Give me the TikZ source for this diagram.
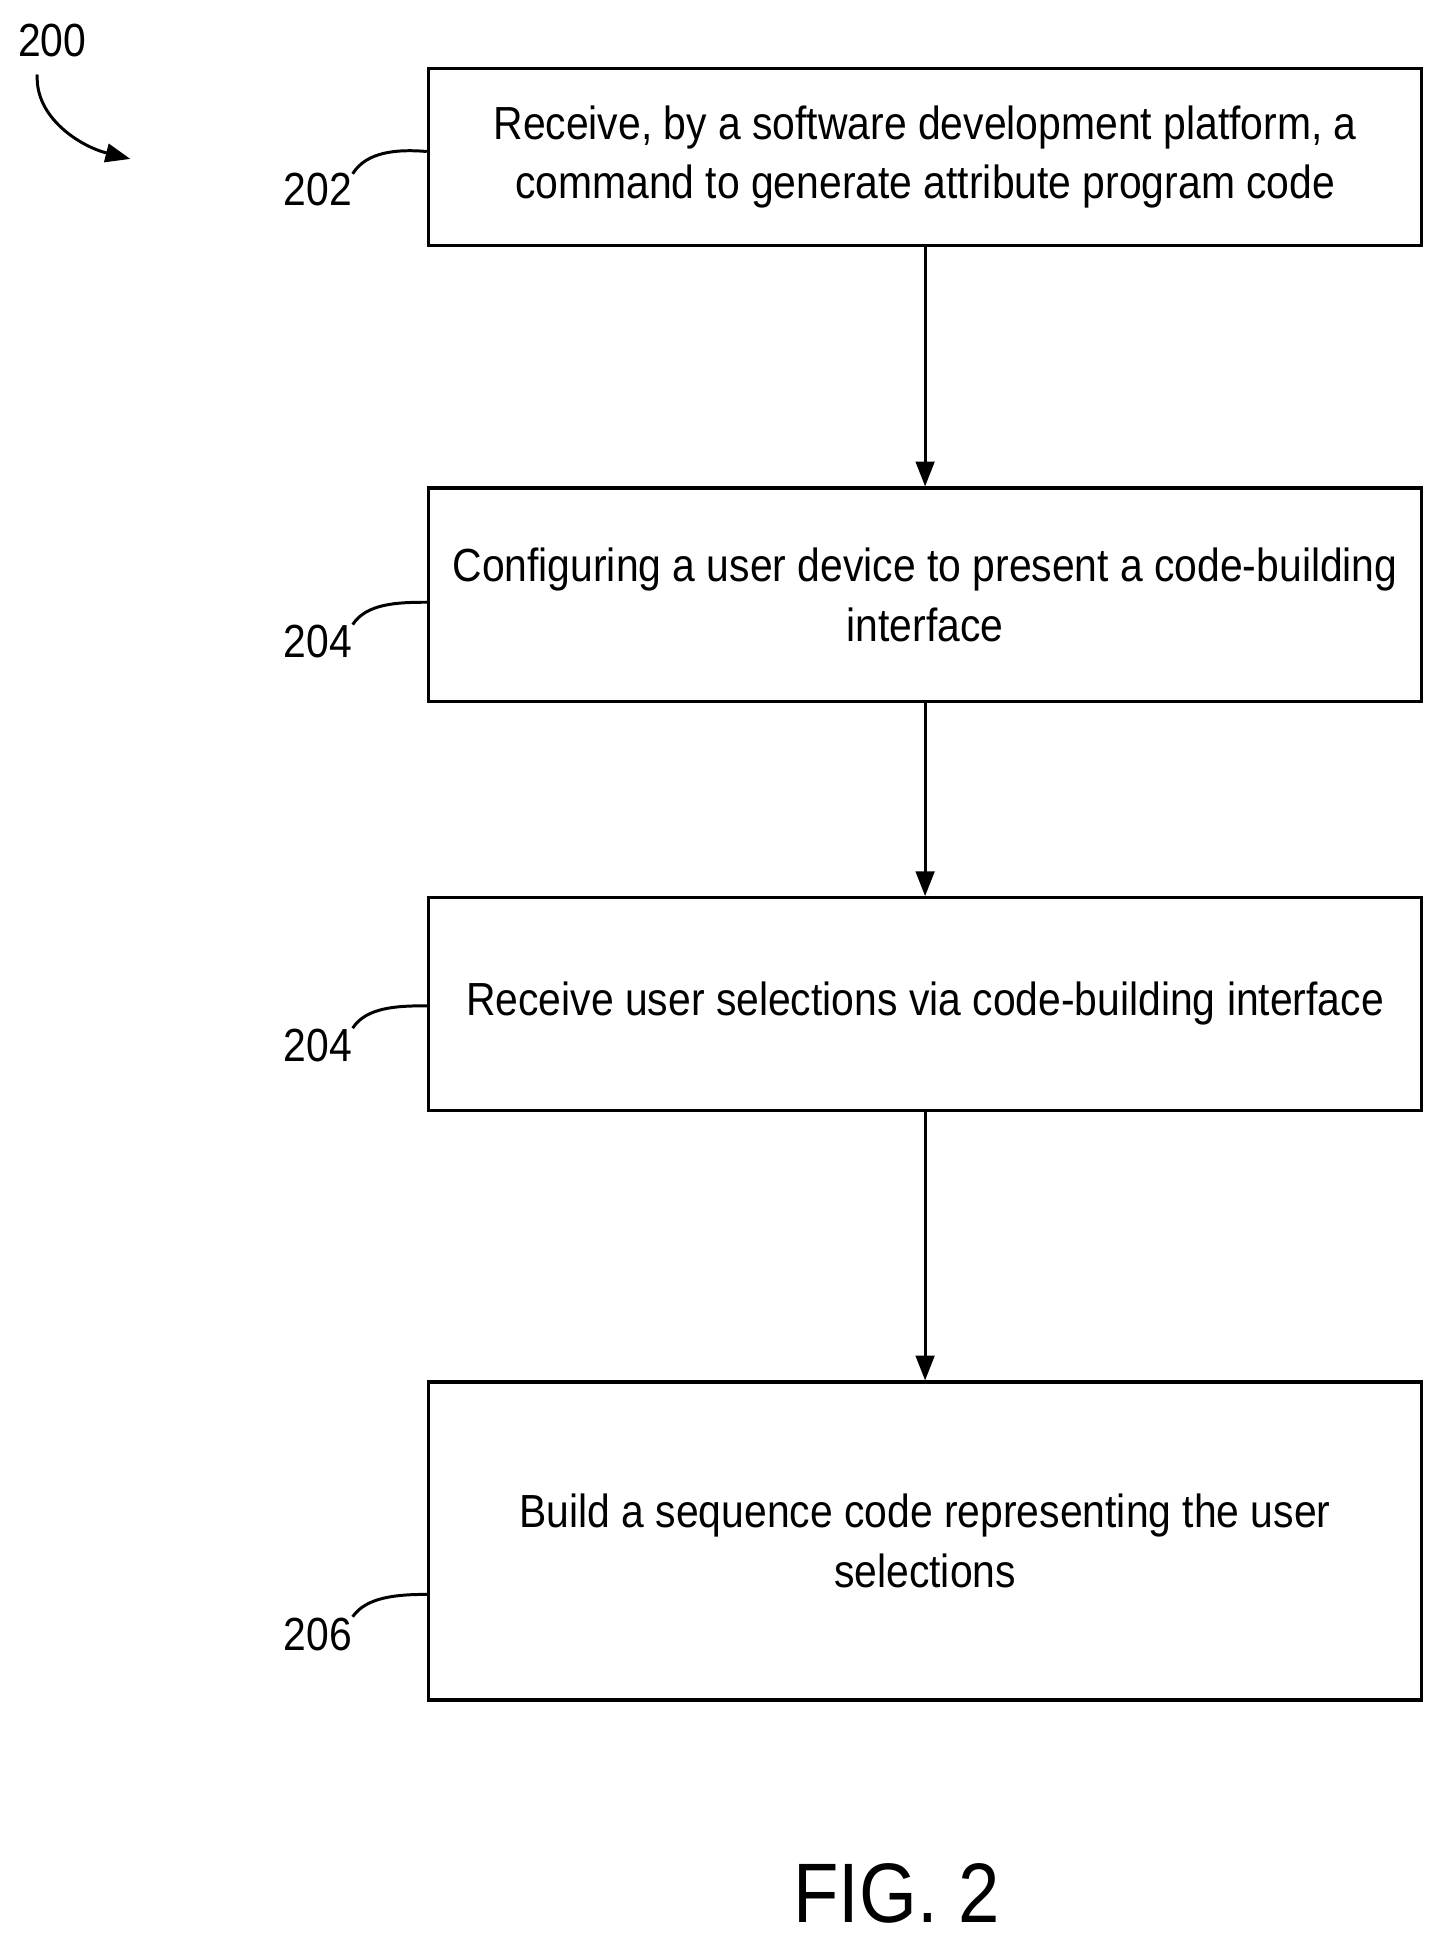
\documentclass[tikz,border=0pt]{standalone}
\usepackage{fontspec}
\setmainfont{Liberation Sans}[FakeStretch=0.88]
\usetikzlibrary{arrows.meta}
\begin{document}
\begin{tikzpicture}[x=0.5pt,y=-0.5pt,
  box/.style={draw,line width=1.3pt,minimum width=400pt,align=center,font=\fontsize{18.7}{24}\selectfont,inner sep=0pt},
  lbl/.style={font=\fontsize{18.7}{20}\selectfont},
  arr/.style={line width=1.2pt,-{Triangle[length=10pt,width=7.5pt]}},
  lead/.style={line width=1.2pt}]
\useasboundingbox (0,0) rectangle (1166,1572);
\node[box,minimum height=71.5pt] (b1) at (745,126.5) {Receive, by a software development platform, a\\command to generate attribute program code};
\node[box,minimum height=86pt] (b2) at (745,479) {Configuring a user device to present a code-building\\interface};
\node[box,minimum height=85.5pt] (b3) at (745,808.5) {Receive user selections via code-building interface};
\node[box,minimum height=128pt] (b4) at (745,1241) {Build a sequence code representing the user\\selections};
\draw[arr] (b1) -- (b2);
\draw[arr] (b2) -- (b3);
\draw[arr] (b3) -- (b4);
\node[lbl] (l1) at (256,153) {202};
\node[lbl] (l2) at (256,517) {204};
\node[lbl] (l3) at (256,842) {204};
\node[lbl] (l4) at (256,1316) {206};
\draw[lead] (284,140) .. controls (295,122) and (320,120) .. (b1.west|-0,122);
\draw[lead] (284,503) .. controls (295,486) and (320,485) .. (b2.west|-0,485);
\draw[lead] (284,828) .. controls (295,811) and (320,810) .. (b3.west|-0,810);
\draw[lead] (284,1302) .. controls (295,1286) and (320,1284) .. (b4.west|-0,1284);
\node[lbl] (l0) at (42,33) {200};
\coordinate (a0) at (105,128);
\draw[lead,-{Triangle[length=10pt,width=7.5pt]}] (30,60) .. controls (28,95) and (65,118) .. (a0);
\node[font=\fontsize{34}{36}\selectfont] (fig) at (722,1525) {FIG. 2};
\end{tikzpicture}
\end{document}
